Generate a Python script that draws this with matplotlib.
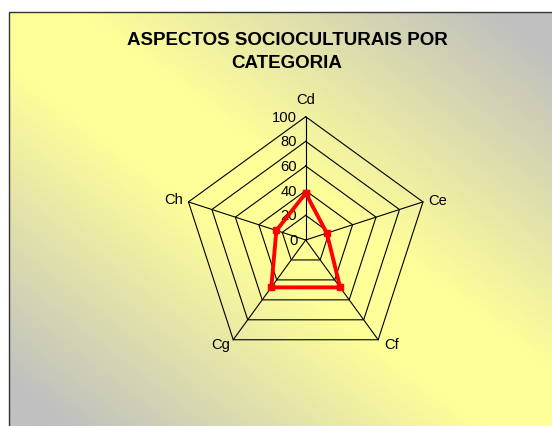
import matplotlib
matplotlib.use('Agg')
import matplotlib.pyplot as plt
import numpy as np
from matplotlib.colors import LinearSegmentedColormap
from matplotlib.patches import Rectangle

categories = ['Cd', 'Ce', 'Cf', 'Cg', 'Ch']
values = [38, 18, 47.5, 47.5, 25]
rings = [20, 40, 60, 80, 100]
tick_labels = ['0', '20', '40', '60', '80', '100']
title = 'ASPECTOS SOCIOCULTURAIS POR\nCATEGORIA'

plt.rcParams['font.family'] = ['Liberation Sans', 'DejaVu Sans']

W, H = 552, 427
fig = plt.figure(figsize=(W / 100, H / 100), dpi=100)
fig.patch.set_facecolor('white')

# chart area with diagonal yellow/grey gradient
bx0, by0 = 8.5, 12.5
bg = fig.add_axes([bx0 / W, 0, 1 - bx0 / W, (H - by0) / H])
u, v = np.meshgrid(np.linspace(0, 1, 300), np.linspace(0, 1, 300))
grad = np.clip((np.abs(u - v) - 0.12) / 0.78, 0, 1)
cmap = LinearSegmentedColormap.from_list('bg', ['#FFFF99', '#C0C0C0'])
bg.imshow(grad, cmap=cmap, vmin=0, vmax=1, aspect='auto', extent=[0, 1, 1, 0],
          interpolation='bilinear')
bg.set_xlim(0, 1)
bg.set_ylim(1, 0)
bg.axis('off')
fig.patches.append(Rectangle((bx0 / W, -0.01), 1.02 - bx0 / W, (H - by0) / H + 0.01,
                             transform=fig.transFigure, fill=False,
                             edgecolor='#333333', linewidth=1.0, zorder=5))

fig.text(287 / W, 1 - 52 / H, title, ha='center', va='center', fontsize=13.5,
         fontweight='bold', linespacing=1.4, color='black')

# radar axes: centre (305.7, 241) px, radius 123.3 px for value 100
cx, cy, R = 305.7, 241.0, 123.3
span = 1.5 * R
ax = fig.add_axes([(cx - span) / W, (H - cy - span) / H, 2 * span / W, 2 * span / H])
ax.set_xlim(-150, 150)
ax.set_ylim(-150, 150)
ax.axis('off')

n = len(categories)
ang = np.pi / 2 - np.arange(n) * 2 * np.pi / n
ca, sa = np.cos(ang), np.sin(ang)

for r in rings:
    ax.plot(np.append(r * ca, r * ca[0]), np.append(r * sa, r * sa[0]),
            color='black', lw=0.8, zorder=2)
for i in range(n):
    ax.plot([0, 100 * ca[i]], [0, 100 * sa[i]], color='black', lw=0.8, zorder=2)

for i, t in enumerate(tick_labels):
    ax.annotate(t, (0, i * 20), xytext=(-6, 0), textcoords='offset points',
                ha='right', va='center', fontsize=10.6, zorder=3)

offsets = [(0, 12.7, 'center'), (3.6, 1.4, 'left'), (4.3, -3, 'left'),
           (-2.2, -3, 'right'), (-3.6, 2.2, 'right')]
for i, lab in enumerate(categories):
    dx, dy, ha = offsets[i]
    ax.annotate(lab, (100 * ca[i], 100 * sa[i]), xytext=(dx, dy), textcoords='offset points',
                ha=ha, va='center', fontsize=10.6, zorder=3)

vals = np.array(values)
xs, ys = vals * ca, vals * sa
ax.plot(np.append(xs, xs[0]), np.append(ys, ys[0]), color='#FF0000', lw=2.8,
        marker='s', markersize=4, zorder=4, solid_joinstyle='miter')

fig.savefig('out.png', dpi=100)
